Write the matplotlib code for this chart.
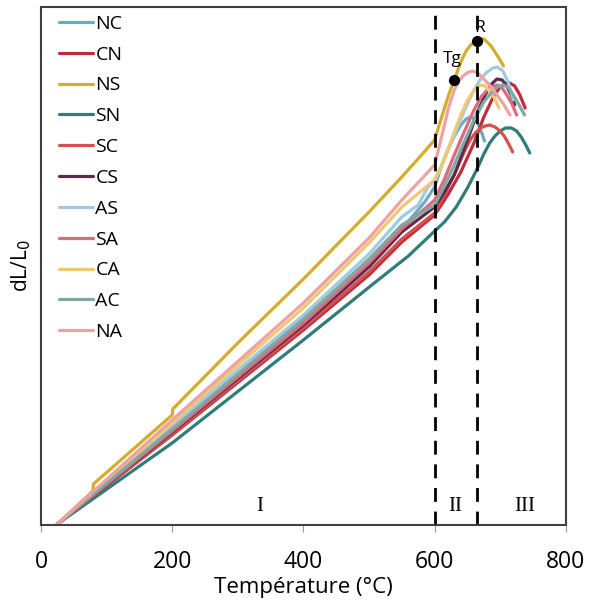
import numpy as np
import matplotlib.pyplot as plt

plt.rcParams['font.family'] = ['Open Sans', 'DejaVu Sans']

names = ['NC', 'CN', 'NS', 'SN', 'SC', 'CS', 'AS', 'SA', 'CA', 'AC', 'NA']
colors = ['#6aaac6', '#c42a3c', '#d6ac2c', '#2f7d78', '#d2524e', '#5b2b4e',
          '#9ecbe2', '#dc6a7c', '#f0c875', '#7fa8a2', '#eea3a3']

# temperature (°C) and dL/L0 (arbitrary units)
T_NC = [25, 200, 400, 500, 550, 585, 600, 610, 620, 630, 640, 648, 655, 661, 667, 672, 676]
L_NC = [0.1, 9.5, 20.3, 26.0, 29.6, 32.3, 33.8, 35.8, 37.5, 38.9, 40.0, 40.6, 40.8, 40.6, 40.0, 39.2, 38.4]

T_CN = [25, 200, 400, 500, 550, 600, 620, 640, 660, 675, 690, 700, 712, 722, 730, 738]
L_CN = [0.1, 9.0, 19.5, 25.0, 28.3, 31.0, 33.0, 35.3, 38.2, 40.8, 42.9, 43.8, 44.3, 43.9, 43.0, 41.7]

T_NS = [25, 79, 80, 200, 201, 300, 400, 500, 550, 580, 600, 608, 615, 623, 630, 636, 642,
        648, 655, 662, 668, 675, 680, 686, 692, 698, 705]
L_NS = [0.1, 3.4, 4.1, 11.0, 11.6, 18.2, 24.6, 31.3, 34.8, 37.0, 38.5, 40.2, 41.7, 43.3,
        44.5, 45.6, 46.6, 47.4, 48.0, 48.4, 48.6, 48.6, 48.3, 47.9, 47.3, 46.7, 45.9]

T_SN = [25, 200, 400, 510, 560, 597, 615, 633, 650, 664, 675, 684, 692, 700, 708, 717, 725, 732, 739, 745]
L_SN = [0.1, 8.2, 18.5, 24.3, 26.9, 29.2, 30.3, 31.8, 33.7, 35.5, 37.1, 38.2, 38.9, 39.4, 39.7, 39.7, 39.4, 38.8, 38.0, 37.2]

T_SC = [25, 200, 400, 500, 550, 600, 615, 633, 645, 654, 662, 670, 677, 684, 692, 700, 707, 713, 719]
L_SC = [0.1, 9.1, 19.7, 25.3, 28.6, 31.2, 33.0, 35.5, 37.3, 38.5, 39.2, 39.7, 39.9, 40.0, 39.8, 39.4, 38.8, 38.1, 37.3]

T_CS = [25, 200, 400, 500, 550, 600, 615, 630, 650, 665, 677, 687, 695, 703, 710, 716, 722]
L_CS = [0.1, 9.3, 20.0, 25.8, 29.3, 31.8, 33.3, 35.0, 38.5, 41.2, 43.0, 44.1, 44.6, 44.5, 43.9, 43.1, 42.0]

T_AS = [25, 200, 400, 500, 550, 575, 590, 600, 615, 630, 645, 660, 670, 680, 689, 696, 704, 712, 720]
L_AS = [0.1, 10.0, 21.0, 27.1, 30.8, 32.0, 33.8, 34.4, 36.6, 39.0, 41.4, 43.5, 44.6, 45.3, 45.7, 45.8, 45.4, 44.3, 42.5]

T_SA = [25, 200, 400, 500, 550, 600, 615, 630, 645, 660, 672, 683, 695, 703, 710, 718, 725]
L_SA = [0.1, 9.4, 20.2, 26.2, 29.6, 32.5, 34.6, 37.0, 39.3, 41.5, 42.9, 43.7, 44.0, 43.7, 43.0, 42.1, 41.0]

T_CA = [25, 200, 400, 500, 550, 600, 610, 620, 630, 640, 648, 655, 662, 669, 677, 685, 692, 698]
L_CA = [0.1, 10.2, 21.7, 28.2, 31.8, 34.5, 35.8, 37.5, 39.3, 41.0, 42.2, 43.0, 43.6, 44.0, 43.9, 43.3, 42.6, 41.7]

T_AC = [25, 200, 400, 500, 550, 600, 615, 630, 645, 660, 675, 690, 698, 705, 713, 720, 728, 737]
L_AC = [0.1, 9.6, 20.6, 26.6, 30.0, 32.0, 33.9, 36.0, 38.3, 40.5, 42.3, 43.5, 43.9, 44.0, 43.7, 43.0, 42.1, 41.0]

T_NA = [25, 200, 400, 500, 550, 600, 608, 615, 622, 630, 638, 645, 652, 658, 666, 675, 685, 695, 705, 715]
L_NA = [0.1, 10.5, 22.2, 28.7, 32.5, 36.0, 38.1, 40.0, 41.9, 43.5, 44.5, 45.0, 45.3, 45.4, 45.2, 44.6, 43.9, 43.0, 42.1, 41.0]

temps = [T_NC, T_CN, T_NS, T_SN, T_SC, T_CS, T_AS, T_SA, T_CA, T_AC, T_NA]
vals = [L_NC, L_CN, L_NS, L_SN, L_SC, L_CS, L_AS, L_SA, L_CA, L_AC, L_NA]

Tg = (629, 44.5)
R = (665, 48.4)
limits = [600, 665]
zones = ['I', 'II', 'III']
zone_x = [334, 631, 737]

fig = plt.figure(figsize=(5.9, 6.03), dpi=100)
ax = fig.add_axes([0.0695, 0.1294, 0.8895, 0.859])

for t, v, n, c in zip(temps, vals, names, colors):
    ax.plot(t, v, color=c, lw=2.3, label=n, solid_capstyle='round', solid_joinstyle='round')

for xv in limits:
    ax.axvline(xv, color='black', lw=2, dashes=(5, 3.5))

ax.plot(*Tg, 'o', color='black', ms=7)
ax.plot(*R, 'o', color='black', ms=7)
ax.text(Tg[0] - 2, Tg[1] + 1.3, 'Tg', fontsize=12.5, ha='center', va='bottom')
ax.text(R[0] + 3, R[1] + 0.5, 'R', fontsize=12.5, ha='center', va='bottom')

for z, xz in zip(zones, zone_x):
    ax.text(xz, 0.9, z, fontsize=15, family='Liberation Serif', ha='center', va='bottom')

ax.set_xlim(0, 800)
ax.set_ylim(0, 51.8)
ax.set_xticks([0, 200, 400, 600, 800])
ax.set_yticks([])
ax.tick_params(axis='x', direction='out', length=5, color='#999999', labelsize=16.5, pad=13)
for s in ax.spines.values():
    s.set_color('#404040')
    s.set_linewidth(1.5)

ax.set_xlabel('Température (°C)', fontsize=16, labelpad=2.5)
ax.set_ylabel('dL/L$_0$', fontsize=15, labelpad=6)

ax.legend(loc='upper left', bbox_to_anchor=(0.02, 1.0), frameon=False, fontsize=14,
          handlelength=1.75, handletextpad=0.1, labelspacing=0.66, borderaxespad=0)

fig.savefig('out.png', dpi=100)
